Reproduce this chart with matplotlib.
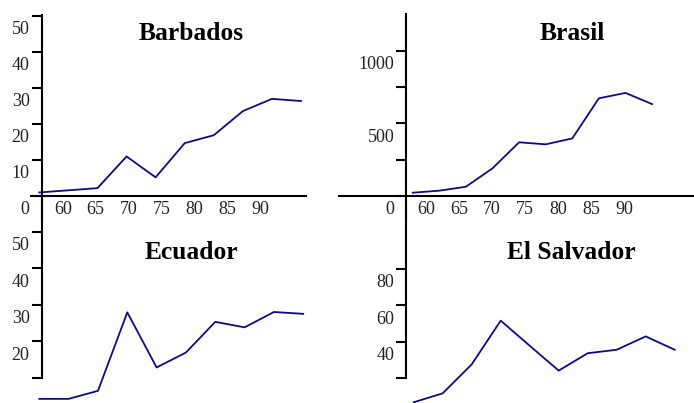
import matplotlib
matplotlib.use("Agg")
import matplotlib.pyplot as plt
from matplotlib.transforms import ScaledTranslation

# series, one value per period (10 periods)
barbados = [0.9, 1.5, 2.1, 10.9, 5.1, 14.6, 16.8, 23.5, 26.9, 26.3]
brasil = [22, 36, 63, 190, 369, 355, 396, 672, 709, 632]
ecuador = [4.2, 4.2, 6.4, 27.9, 12.8, 16.9, 25.3, 23.8, 28.0, 27.5]
el_salvador = [6.9, 11.8, 27.6, 51.5, 37.8, 24.2, 33.7, 35.6, 42.9, 35.6]

year_labels = ["60", "65", "70", "75", "80", "85", "90"]

barbados_ticks = [0, 10, 20, 30, 40, 50]
barbados_labels = ["0", "10", "20", "30", "40", "50"]
brasil_ticks = [0, 250, 500, 750, 1000]
brasil_labels = ["0", "", "500", "", "1000"]
ecuador_ticks = [10, 20, 30, 40, 50]
ecuador_labels = ["", "20", "30", "40", "50"]
salvador_ticks = [20, 40, 60, 80]
salvador_labels = ["", "40", "60", "80"]

W, H = 694, 403
DPI = 100
SERIF = "Liberation Serif"
LINE = "#0b0b8a"

fig = plt.figure(figsize=(W / DPI, H / DPI), dpi=DPI)


def panel(values, title, box, x0, dx, y0, sy, spine_x, ticks, labels,
          title_xy, bottom_axis=True, year_px=None):
    left, top, right, bottom = box
    ax = fig.add_axes([left / W, 1 - bottom / H, (right - left) / W, (bottom - top) / H])
    ax.set_xlim((left - x0) / dx, (right - x0) / dx)
    ax.set_ylim((y0 - bottom) / sy, (y0 - top) / sy)
    ax.patch.set_visible(False)

    ax.plot(range(len(values)), values, color=LINE, lw=1.3, clip_on=False)

    for s in ("top", "right"):
        ax.spines[s].set_visible(False)
    ax.spines["left"].set_position(("axes", (spine_x - left) / (right - left)))
    ax.spines["left"].set_linewidth(1.5)
    if bottom_axis:
        ax.spines["bottom"].set_position(("data", 0))
        ax.spines["bottom"].set_linewidth(1.5)
    else:
        ax.spines["bottom"].set_visible(False)
        ax.spines["left"].set_bounds(ticks[0], (y0 - top) / sy)

    ax.set_yticks(ticks)
    ax.set_yticklabels(labels)
    ax.tick_params(axis="y", length=7.2, width=1.5, direction="out", pad=1.5,
                   labelsize=13, labelcolor="#222222")
    # labels sit just below their tick marks
    off = ScaledTranslation(0, -12 / DPI, fig.dpi_scale_trans)
    for t in ax.yaxis.get_major_ticks():
        t.label1.set_transform(t.label1.get_transform() + off)
        t.label1.set_family(SERIF)

    if year_px is not None:
        start, step = year_px
        ax.set_xticks([(start + step * k - x0) / dx for k in range(len(year_labels))])
        ax.set_xticklabels(year_labels, family=SERIF)
        ax.tick_params(axis="x", length=0, pad=4, labelsize=13, labelcolor="#222222")
    else:
        ax.set_xticks([])

    fig.text(title_xy[0] / W, 1 - title_xy[1] / H, title, ha="center", va="baseline",
             family=SERIF, weight="bold", fontsize=18.4, color="black")
    return ax


panel(barbados, "Barbados", (31, 15, 306, 220), 39.3, 29.08, 195.7, 3.6, 41.7,
      barbados_ticks, barbados_labels, (191, 40), year_px=(62.7, 33.0))
panel(brasil, "Brasil", (339, 14, 694, 220), 412.7, 26.6, 195.9, 0.14525, 406.3,
      brasil_ticks, brasil_labels, (572, 40), year_px=(426, 33.05))
panel(ecuador, "Ecuador", (31, 200, 306, 403), 39.3, 29.33, 414.2, 3.65, 41.7,
      ecuador_ticks, ecuador_labels, (191, 259), bottom_axis=False)
panel(el_salvador, "El Salvador", (339, 200, 694, 403), 413.7, 29.0, 414.9, 1.83, 406.3,
      salvador_ticks, salvador_labels, (571, 259), bottom_axis=False)

fig.savefig("out.png", dpi=DPI)
